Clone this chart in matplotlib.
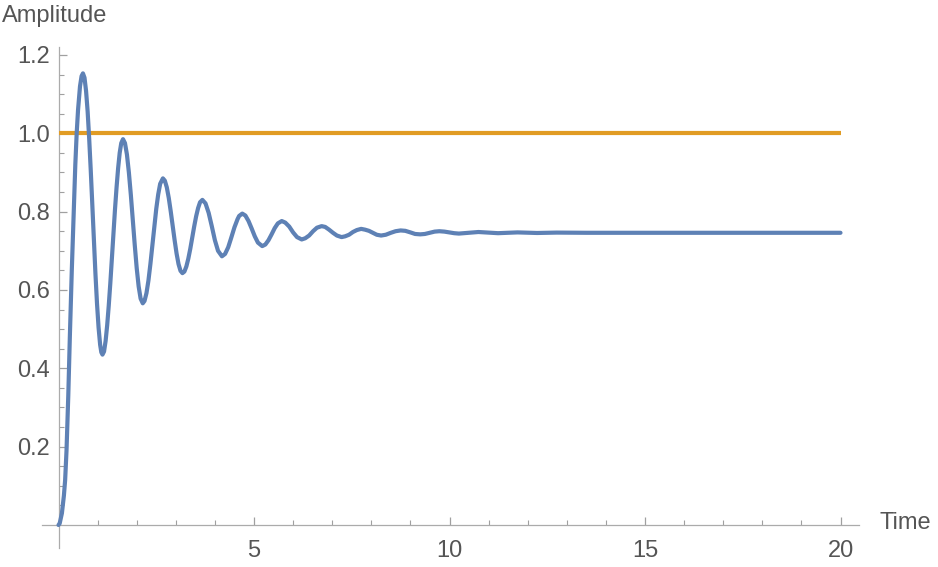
import matplotlib
matplotlib.use("Agg")
import matplotlib.pyplot as plt
from matplotlib.ticker import MultipleLocator, FixedLocator

# ---- data ----
time = [0.0, 0.03, 0.087, 0.138, 0.17, 0.205, 0.25, 0.29, 0.34, 0.39, 0.43, 0.465, 0.50, 0.55, 0.59, 0.625,
        0.665, 0.705, 0.745, 0.785, 0.825, 0.865, 0.905, 0.945, 0.985, 1.025, 1.065, 1.095, 1.125,
        1.165, 1.205, 1.245, 1.285, 1.325, 1.365, 1.405, 1.445, 1.485, 1.525, 1.565, 1.605, 1.65,
        1.70, 1.75, 1.80, 1.85, 1.90, 1.95, 2.00, 2.05, 2.10, 2.155,
        2.20, 2.25, 2.30, 2.35, 2.40, 2.45, 2.50, 2.55, 2.60, 2.67,
        2.72, 2.77, 2.82, 2.87, 2.92, 2.97, 3.02, 3.07, 3.12, 3.17,
        3.22, 3.27, 3.32, 3.37, 3.42, 3.47, 3.52, 3.57, 3.62, 3.68,
        3.76, 3.84, 3.92, 4.00, 4.08, 4.18,
        4.26, 4.34, 4.42, 4.50, 4.58, 4.62, 4.70,
        4.78, 4.86, 4.94, 5.02, 5.10, 5.21,
        5.29, 5.37, 5.45, 5.53, 5.61, 5.71,
        5.80, 5.90, 6.00, 6.10, 6.22,
        6.31, 6.41, 6.51, 6.61, 6.73,
        6.82, 6.92, 7.02, 7.12, 7.24,
        7.33, 7.43, 7.53, 7.63, 7.74,
        7.84, 7.94, 8.04, 8.14, 8.25,
        8.37, 8.50, 8.62, 8.75,
        8.87, 9.00, 9.12, 9.25,
        9.37, 9.50, 9.62, 9.74,
        9.87, 10.0, 10.12, 10.24,
        10.37, 10.5, 10.62, 10.74,
        11.0, 11.24, 11.5, 11.74, 12.24, 12.74, 13.5, 15.0, 17.5, 20.0]
amplitude = [0.0, 0.004, 0.03, 0.075, 0.115, 0.19, 0.33, 0.48, 0.65, 0.80, 0.92, 1.00, 1.06, 1.12, 1.146, 1.153,
             1.142, 1.108, 1.056, 0.986, 0.905, 0.817, 0.727, 0.641, 0.565, 0.504, 0.460, 0.441, 0.435,
             0.443, 0.470, 0.510, 0.560, 0.617, 0.680, 0.745, 0.806, 0.862, 0.911, 0.950, 0.975, 0.985,
             0.975, 0.946, 0.900, 0.843, 0.779, 0.715, 0.656, 0.609, 0.578, 0.566,
             0.572, 0.592, 0.624, 0.666, 0.713, 0.762, 0.807, 0.844, 0.871, 0.885,
             0.879, 0.862, 0.835, 0.801, 0.764, 0.727, 0.693, 0.666, 0.649, 0.643,
             0.647, 0.660, 0.680, 0.705, 0.734, 0.762, 0.788, 0.809, 0.824, 0.830,
             0.821, 0.797, 0.763, 0.727, 0.700, 0.686,
             0.692, 0.709, 0.734, 0.760, 0.781, 0.789, 0.795,
             0.790, 0.776, 0.757, 0.737, 0.721, 0.712,
             0.716, 0.727, 0.742, 0.758, 0.770, 0.776,
             0.772, 0.762, 0.747, 0.735, 0.729,
             0.732, 0.739, 0.750, 0.759, 0.763,
             0.761, 0.754, 0.746, 0.739, 0.735,
             0.737, 0.741, 0.748, 0.753, 0.756,
             0.754, 0.751, 0.746, 0.741, 0.739,
             0.741, 0.746, 0.750, 0.752,
             0.751, 0.747, 0.743, 0.742,
             0.743, 0.746, 0.749, 0.750,
             0.749, 0.747, 0.745, 0.744,
             0.745, 0.746, 0.747, 0.748,
             0.7465, 0.745, 0.746, 0.747, 0.7455, 0.7465, 0.746, 0.746, 0.746, 0.746]
reference_time = [0.0, 20.0]
reference_level = [1.0, 1.0]

x_major = [5, 10, 15, 20]
x_labels = ["5", "10", "15", "20"]
y_major = [0.2, 0.4, 0.6, 0.8, 1.0, 1.2]
y_labels = ["0.2", "0.4", "0.6", "0.8", "1.0", "1.2"]

# ---- figure ----
W, H = 938, 567
fig = plt.figure(figsize=(W / 100, H / 100), dpi=100)
plt.rcParams['font.family'] = ['Liberation Sans', 'DejaVu Sans']

left_px, right_px, top_px, bottom_px = 42, 859, 47, 548
ax = fig.add_axes([left_px / W, (H - bottom_px) / H, (right_px - left_px) / W, (bottom_px - top_px) / H])

x0_px, x_scale = 58.5, 39.1
y0_px, y_scale = 525.0, 391.7
ax.set_xlim((left_px - x0_px) / x_scale, (right_px - x0_px) / x_scale)
ax.set_ylim((y0_px - bottom_px) / y_scale, (y0_px - top_px) / y_scale)

blue = '#5E81B5'
orange = '#E19C24'
ax.plot(reference_time, reference_level, color=orange, lw=3.0, solid_capstyle='butt', zorder=3)
ax.plot(time, amplitude, color=blue, lw=3.0, solid_capstyle='round', solid_joinstyle='round', zorder=4)

axis_col = '#ababab'
text_col = '#555555'
for s in ['top', 'right']:
    ax.spines[s].set_visible(False)
ax.spines['left'].set_position(('data', 0))
ax.spines['bottom'].set_position(('data', 0))
for s in ['left', 'bottom']:
    ax.spines[s].set_color(axis_col)
    ax.spines[s].set_linewidth(0.9)

ax.xaxis.set_major_locator(FixedLocator(x_major))
ax.set_xticklabels(x_labels)
ax.xaxis.set_minor_locator(FixedLocator([v for v in range(1, 21) if v % 5 != 0]))
ax.yaxis.set_major_locator(FixedLocator(y_major))
ax.set_yticklabels(y_labels)
ax.yaxis.set_minor_locator(FixedLocator([round(0.05 * k, 2) for k in range(1, 25) if k % 4 != 0]))

ax.tick_params(which='both', direction='in', color='#a0a0a0', labelcolor=text_col, labelsize=17)
ax.tick_params(which='major', length=6, width=0.9)
ax.tick_params(which='minor', length=3.5, width=0.8)
ax.tick_params(axis='x', which='major', pad=11)
ax.tick_params(axis='y', which='major', pad=6)

ax.patch.set_alpha(0)
fig.text(2 / W, 1 - 16 / H, "Amplitude", color=text_col, fontsize=17, ha='left', va='center')
fig.text(879 / W, 1 - 523 / H, "Time", color=text_col, fontsize=17, ha='left', va='center')

fig.savefig("out.png", dpi=100)
